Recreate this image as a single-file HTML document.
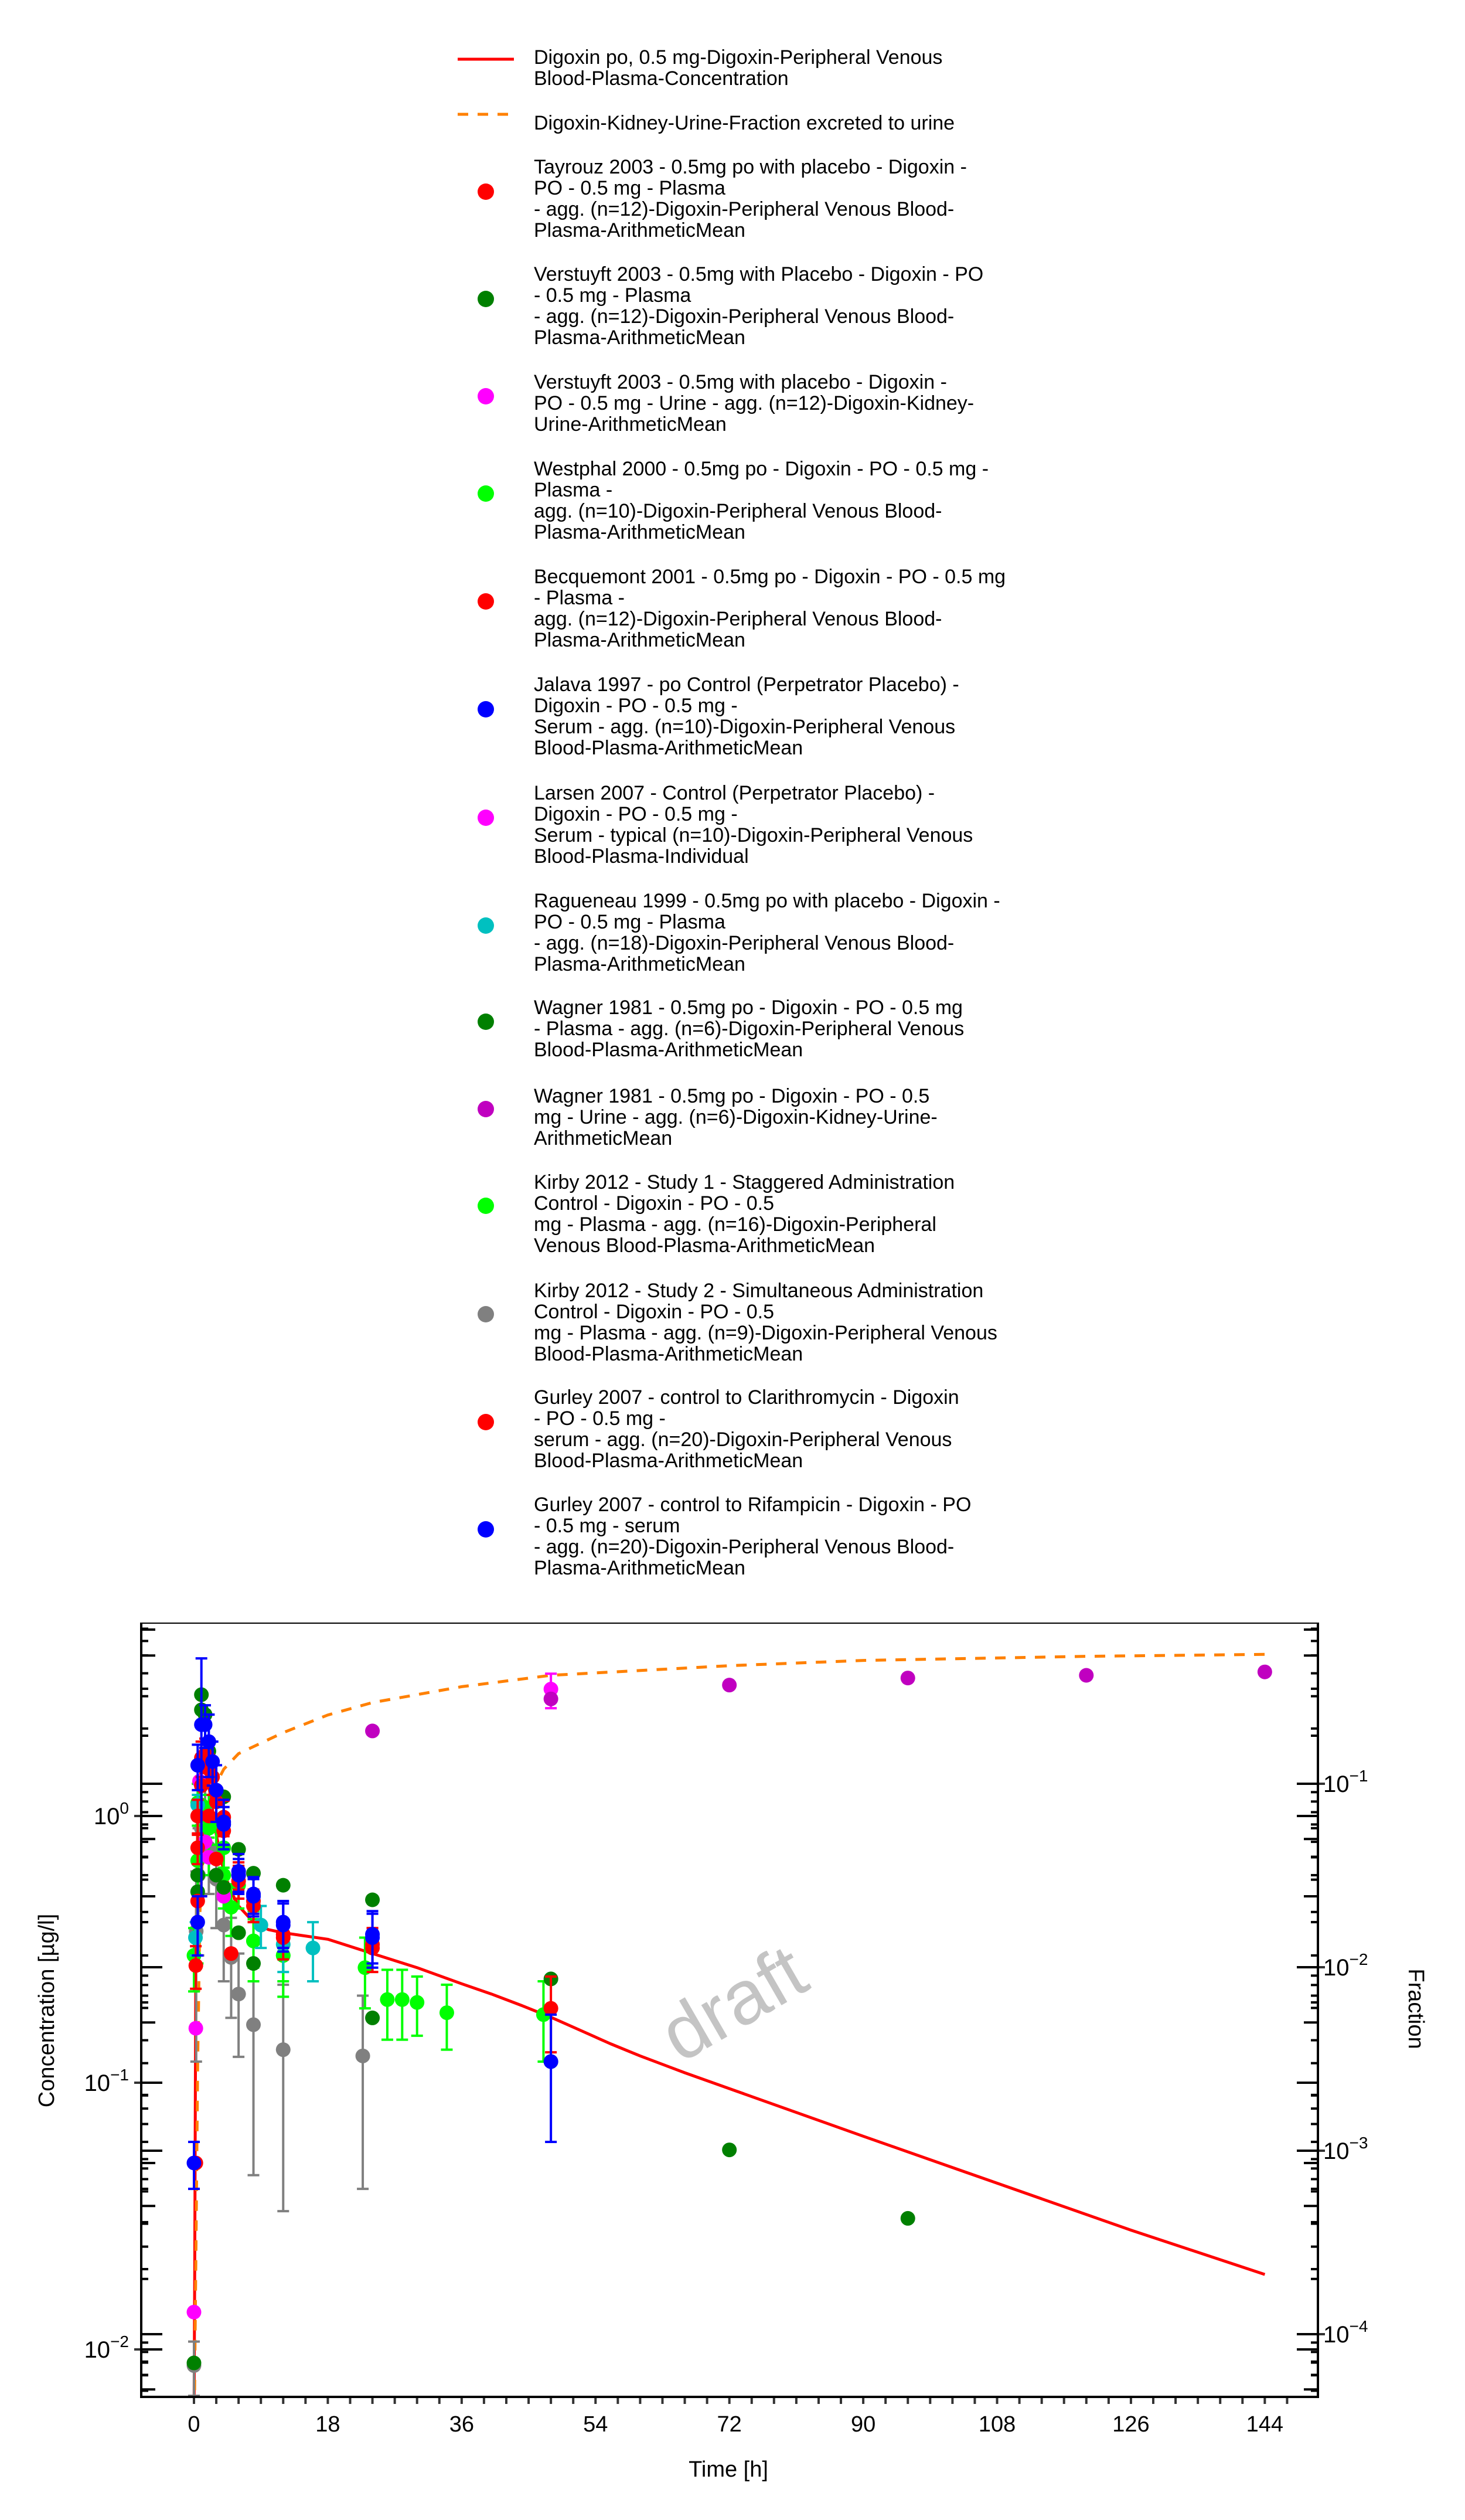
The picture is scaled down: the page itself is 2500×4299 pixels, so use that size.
<!DOCTYPE html>
<html><head><meta charset="utf-8">
<style>
html,body{margin:0;padding:0;background:#fff;}
body{width:2500px;height:4299px;position:relative;overflow:hidden;font-family:"Liberation Sans",sans-serif;}
.lg{position:absolute;left:911px;font-size:34px;line-height:36px;color:#000;white-space:nowrap;}
</style></head>
<body>
<svg id="chart" width="2500" height="4299" style="position:absolute;left:0;top:0" xmlns="http://www.w3.org/2000/svg">
<defs><clipPath id="clip"><rect x="241" y="2769" width="2008" height="1320"/></clipPath></defs>
<text x="1257" y="3460" font-family="Liberation Sans, sans-serif" font-size="130" fill="#c4c4c4" text-anchor="middle" transform="rotate(-30 1257 3427)">draft</text>
<g id="ticks"></g>
<g id="marks" clip-path="url(#clip)"></g>
<rect x="241" y="2768" width="2008" height="2" fill="#000"/>
<line x1="241" y1="2768" x2="241" y2="4091" stroke="#000" stroke-width="4"/>
<line x1="2249" y1="2768" x2="2249" y2="4091" stroke="#000" stroke-width="4"/>
<line x1="239" y1="4089" x2="2251" y2="4089" stroke="#000" stroke-width="4"/>
<text x="0" y="0" font-family="Liberation Sans, sans-serif" font-size="38" text-anchor="middle" transform="translate(92 3430) rotate(-90)">Concentration [µg/l]</text>
<text x="0" y="0" font-family="Liberation Sans, sans-serif" font-size="38" text-anchor="middle" transform="translate(2404 3427) rotate(90)">Fraction</text>
<text x="1243" y="4225" font-family="Liberation Sans, sans-serif" font-size="38" text-anchor="middle">Time [h]</text>
</svg>

<svg style="position:absolute;left:0;top:0" width="1000" height="2700">
<line x1="781" y1="101" x2="877" y2="101" stroke="#ff0000" stroke-width="5"/>
<line x1="781" y1="195" x2="877" y2="195" stroke="#ff8000" stroke-width="5" stroke-dasharray="18,16"/>
<circle cx="829" cy="327" r="14" fill="#ff0000"/>
<circle cx="829" cy="510" r="14" fill="#008000"/>
<circle cx="829" cy="676" r="14" fill="#ff00ff"/>
<circle cx="829" cy="842" r="14" fill="#00ff00"/>
<circle cx="829" cy="1026" r="14" fill="#ff0000"/>
<circle cx="829" cy="1210" r="14" fill="#0000ff"/>
<circle cx="829" cy="1395" r="14" fill="#ff00ff"/>
<circle cx="829" cy="1579" r="14" fill="#00c0c0"/>
<circle cx="829" cy="1743" r="14" fill="#008000"/>
<circle cx="829" cy="1892" r="14" fill="#c000c0"/>
<circle cx="829" cy="2057" r="14" fill="#00ff00"/>
<circle cx="829" cy="2242" r="14" fill="#808080"/>
<circle cx="829" cy="2426" r="14" fill="#ff0000"/>
<circle cx="829" cy="2609" r="14" fill="#0000ff"/>
</svg>
<div class="lg" style="top:80px">Digoxin po, 0.5 mg-Digoxin-Peripheral Venous<br>Blood-Plasma-Concentration</div>
<div class="lg" style="top:192px">Digoxin-Kidney-Urine-Fraction excreted to urine</div>
<div class="lg" style="top:267px">Tayrouz 2003 - 0.5mg po with placebo - Digoxin -<br>PO - 0.5 mg - Plasma<br>- agg. (n=12)-Digoxin-Peripheral Venous Blood-<br>Plasma-ArithmeticMean</div>
<div class="lg" style="top:450px">Verstuyft 2003 - 0.5mg with Placebo - Digoxin - PO<br>- 0.5 mg - Plasma<br>- agg. (n=12)-Digoxin-Peripheral Venous Blood-<br>Plasma-ArithmeticMean</div>
<div class="lg" style="top:634px">Verstuyft 2003 - 0.5mg with placebo - Digoxin -<br>PO - 0.5 mg - Urine - agg. (n=12)-Digoxin-Kidney-<br>Urine-ArithmeticMean</div>
<div class="lg" style="top:782px">Westphal 2000 - 0.5mg po - Digoxin - PO - 0.5 mg -<br>Plasma -<br>agg. (n=10)-Digoxin-Peripheral Venous Blood-<br>Plasma-ArithmeticMean</div>
<div class="lg" style="top:966px">Becquemont 2001 - 0.5mg po - Digoxin - PO - 0.5 mg<br>- Plasma -<br>agg. (n=12)-Digoxin-Peripheral Venous Blood-<br>Plasma-ArithmeticMean</div>
<div class="lg" style="top:1150px">Jalava 1997 - po Control (Perpetrator Placebo) -<br>Digoxin - PO - 0.5 mg -<br>Serum - agg. (n=10)-Digoxin-Peripheral Venous<br>Blood-Plasma-ArithmeticMean</div>
<div class="lg" style="top:1335px">Larsen 2007 - Control (Perpetrator Placebo) -<br>Digoxin - PO - 0.5 mg -<br>Serum - typical (n=10)-Digoxin-Peripheral Venous<br>Blood-Plasma-Individual</div>
<div class="lg" style="top:1519px">Ragueneau 1999 - 0.5mg po with placebo - Digoxin -<br>PO - 0.5 mg - Plasma<br>- agg. (n=18)-Digoxin-Peripheral Venous Blood-<br>Plasma-ArithmeticMean</div>
<div class="lg" style="top:1701px">Wagner 1981 - 0.5mg po - Digoxin - PO - 0.5 mg<br>- Plasma - agg. (n=6)-Digoxin-Peripheral Venous<br>Blood-Plasma-ArithmeticMean</div>
<div class="lg" style="top:1852px">Wagner 1981 - 0.5mg po - Digoxin - PO - 0.5<br>mg - Urine - agg. (n=6)-Digoxin-Kidney-Urine-<br>ArithmeticMean</div>
<div class="lg" style="top:1999px">Kirby 2012 - Study 1 - Staggered Administration<br>Control - Digoxin - PO - 0.5<br>mg - Plasma - agg. (n=16)-Digoxin-Peripheral<br>Venous Blood-Plasma-ArithmeticMean</div>
<div class="lg" style="top:2184px">Kirby 2012 - Study 2 - Simultaneous Administration<br>Control - Digoxin - PO - 0.5<br>mg - Plasma - agg. (n=9)-Digoxin-Peripheral Venous<br>Blood-Plasma-ArithmeticMean</div>
<div class="lg" style="top:2366px">Gurley 2007 - control to Clarithromycin - Digoxin<br>- PO - 0.5 mg -<br>serum - agg. (n=20)-Digoxin-Peripheral Venous<br>Blood-Plasma-ArithmeticMean</div>
<div class="lg" style="top:2549px">Gurley 2007 - control to Rifampicin - Digoxin - PO<br>- 0.5 mg - serum<br>- agg. (n=20)-Digoxin-Peripheral Venous Blood-<br>Plasma-ArithmeticMean</div>

<script>
// ---- data ----
const xTicks = [0,18,36,54,72,90,108,126,144];
const yLeftDecades = [-2,-1,0];
const yRightDecades = [-4,-3,-2,-1];
const simTime = [0,0.1,0.25,0.5,0.75,1,1.5,2,3,4,5,6,8,10,12,18,24,30,36,40,44,48,52,56,60,66,72,90,108,126,144];
const simConc = [0.005,0.02,0.3,0.9,1.3,1.5,1.5,1.3,0.85,0.62,0.52,0.46,0.40,0.375,0.365,0.345,0.305,0.27,0.235,0.215,0.195,0.176,0.157,0.14,0.126,0.109,0.095,0.063,0.042,0.028,0.0191];
const fracTime = [0.05,0.1,0.3,0.5,0.8,1.2,2,3,4,6,12,18,24,36,48,72,90,120,144];
const fracVal = [0.00003,0.00006,0.0004,0.003,0.02,0.045,0.074,0.1,0.12,0.146,0.19,0.237,0.277,0.338,0.39,0.44,0.47,0.495,0.507];

const tayrouzT = [0.25,0.5,1,2,3,4,6,8,12,24,48];
const tayrouzV = [0.275,1.0,1.65,1.5,1.13,0.88,0.6,0.48,0.36,0.33,0.19];
const tayrouzE = [0.05,0.15,0.25,0.2,0.15,0.1,0.07,0.05,0.04,0.05,0.06];
const verstuyftT = [0,0.5,1,1.5,3,4,6,8,24,48];
const verstuyftV = [0.0089,0.52,2.85,2.4,0.6,0.54,0.365,0.28,0.175,0.12];
const verstuyftUT = [48];
const verstuyftUV = [0.328];
const verstuyftUE = [0.07];
const westphalT = [0,0.5,1,2,3,4,6,8,12];
const westphalV = [0.3,1.12,1.3,0.98,0.93,0.76,0.55,0.34,0.3];
const westphalE = [0.08,0.2,0.2,0.15,0.15,0.12,0.1,0.07,0.06];
const becqT = [0.25,0.5,1,2,3,5];
const becqV = [0.05,0.48,1.3,1.0,0.69,0.305];
const jalavaT = [0,0.5,1,2,3,4,6,8,12,24,48];
const jalavaV = [0.05,0.4,2.2,1.9,1.25,0.95,0.62,0.51,0.39,0.36,0.12];
const jalavaE = [0.01,0.1,1.7,0.5,0.3,0.2,0.1,0.08,0.08,0.08,0.06];
const larsenT = [0,0.25,0.75,1.5,2,3,4];
const larsenV = [0.0138,0.16,1.35,0.8,0.7,0.6,0.5];
const ragT = [0.2,0.5,9,12,16];
const ragV = [0.35,1.1,0.39,0.33,0.32];
const ragE = [0.05,0.1,0.07,0.07,0.08];
const wagnerT = [0.5,1,2,4,6,8,12,24,48,72,96];
const wagnerV = [0.6,2.5,1.75,1.18,0.75,0.61,0.55,0.485,0.245,0.056,0.031];
const wagnerUT = [24,48,72,96,120,144];
const wagnerUV = [0.194,0.29,0.345,0.377,0.39,0.407];
const kirby1T = [0.5,1,2,4,5,8,12,23,26,28,30,34,47];
const kirby1V = [0.68,1.1,0.9,0.6,0.455,0.34,0.3,0.27,0.205,0.205,0.2,0.183,0.18];
const kirby1E = [0.4,0.3,0.3,0.15,0.1,0.1,0.09,0.08,0.06,0.06,0.05,0.05,0.06];
const kirby2T = [0,0.3,0.6,1,1.5,2,3,4,5,6,8,12,22.7];
const kirby2V = [0.0087,0.37,0.6,0.9,1.05,0.76,0.58,0.39,0.295,0.215,0.165,0.133,0.126];
const kirby2E = [0.002,0.25,0.3,0.3,0.3,0.25,0.2,0.15,0.12,0.09,0.12,0.1,0.086];
const gurleyCT = [0.5,1.5,2.5,4,6,8,12,24];
const gurleyCV = [0.76,1.7,1.4,0.99,0.57,0.46,0.35,0.32];
const gurleyCE = [0.1,0.25,0.2,0.15,0.08,0.06,0.06,0.06];
const gurleyRT = [0.5,1.5,2.5,4,6,8,12,24];
const gurleyRV = [1.55,2.2,1.6,0.93,0.6,0.5,0.4,0.35];
const gurleyRE = [0.3,0.4,0.3,0.15,0.09,0.08,0.08,0.08];

// ---- scales ----
const X = t => 331 + t*12.69;
const YL = v => 3098 - Math.log10(v)*455;
const YR = f => 3043 - (Math.log10(f)+1)*313;
const NS = 'http://www.w3.org/2000/svg';
function mk(tag, attrs, parent){const e=document.createElementNS(NS,tag);for(const k in attrs)e.setAttribute(k,attrs[k]);if(parent)parent.appendChild(e);return e;}

const ticks = document.getElementById('ticks');
const marks = document.getElementById('marks');

for(let t=0;t<=147;t+=3){
  const l=mk('line',{x1:X(t),y1:4089,x2:X(t),y2:4101,stroke:'#333','stroke-width':4},ticks);
  
  
}
xTicks.forEach(t=>{
  const tx=mk('text',{x:X(t),y:4148,'font-family':'Liberation Sans, sans-serif','font-size':38,'text-anchor':'middle'},ticks);
  
  
  tx.textContent=String(t);
});

function logTicks(Yf, lo, hi, side){
  for(let d=lo; d<=hi; d++){
    for(let m=1;m<10;m++){
      const y=Yf(m*Math.pow(10,d));
      if(y<2770||y>4088) continue;
      const len = m===1?36:(m===5?24:12);
      [241,2249].forEach(ax=>{
        const dir = ax===241?1:-1;
        const l=mk('line',{x1:ax,y1:y,x2:ax+dir*len,y2:y,stroke:'#000','stroke-width':4},ticks);
        
        
      });
      if(m===1){
        const ax = side==='left'?241:2249, dir = side==='left'?-1:1;
        mk('line',{x1:ax,y1:y,x2:ax+dir*12,y2:y,stroke:'#333','stroke-width':4},ticks);
      }
    }
  }
}
logTicks(YL,-3,0,'left');
logTicks(YR,-5,-1,'right');

function supLabel(x,y,exp,anchor,name){
  const t=mk('text',{x:x,y:y+14,'font-family':'Liberation Sans, sans-serif','font-size':40,'text-anchor':anchor},ticks);
  
  
  const a=mk('tspan',{},t); a.textContent='10';
  const b=mk('tspan',{dy:-18,'font-size':28},t); b.textContent=(exp<0?'\u2212':'')+Math.abs(exp);
}
yLeftDecades.forEach(d=>supLabel(220,YL(Math.pow(10,d)),d,'end','y-tick-label'));
yRightDecades.forEach(d=>supLabel(2258,YR(Math.pow(10,d)),d,'start','y2-tick-label'));

function pathFrom(ts,vs,Yf){return ts.map((t,i)=>(i?'L':'M')+X(t).toFixed(1)+','+Yf(vs[i]).toFixed(1)).join('');}
const simLine=mk('path',{d:pathFrom(simTime,simConc,YL),fill:'none',stroke:'#ff0000','stroke-width':5,'stroke-linejoin':'round'},marks);


const fracLine=mk('path',{d:pathFrom(fracTime,fracVal,YR),fill:'none',stroke:'#ff8000','stroke-width':5,'stroke-dasharray':'18,16'},marks);



function series(ts,vs,es,color,Yf,name){
  const g=mk('g',{},marks);
  
  
  ts.forEach((t,i)=>{
    const x=X(t), v=vs[i];
    if(es){
      const up=v+es[i], lo=Math.max(v-es[i],v*0.05);
      mk('line',{x1:x,y1:Yf(up),x2:x,y2:Yf(lo),stroke:color,'stroke-width':4},g);
      mk('line',{x1:x-10,y1:Yf(up),x2:x+10,y2:Yf(up),stroke:color,'stroke-width':4},g);
      mk('line',{x1:x-10,y1:Yf(lo),x2:x+10,y2:Yf(lo),stroke:color,'stroke-width':4},g);
    }
    const c=mk('circle',{cx:x,cy:Yf(v),r:12.5,fill:color},g);
    
    
  });
}
series(kirby2T,kirby2V,kirby2E,'#808080',YL,'kirby2-series');
series(kirby1T,kirby1V,kirby1E,'#00ff00',YL,'kirby1-series');
series(westphalT,westphalV,westphalE,'#00ff00',YL,'westphal-series');
series(ragT,ragV,ragE,'#00c0c0',YL,'ragueneau-series');
series(larsenT,larsenV,null,'#ff00ff',YL,'larsen-series');
series(verstuyftT,verstuyftV,null,'#008000',YL,'verstuyft-plasma-series');
series(wagnerT,wagnerV,null,'#008000',YL,'wagner-plasma-series');
series(becqT,becqV,null,'#ff0000',YL,'becquemont-series');
series(tayrouzT,tayrouzV,tayrouzE,'#ff0000',YL,'tayrouz-series');
series(gurleyCT,gurleyCV,gurleyCE,'#ff0000',YL,'gurley-clarithromycin-series');
series(jalavaT,jalavaV,jalavaE,'#0000ff',YL,'jalava-series');
series(gurleyRT,gurleyRV,gurleyRE,'#0000ff',YL,'gurley-rifampicin-series');
series(verstuyftUT,verstuyftUV,verstuyftUE,'#ff00ff',YR,'verstuyft-urine-series');
series(wagnerUT,wagnerUV,null,'#c000c0',YR,'wagner-urine-series');
</script>
</body></html>
